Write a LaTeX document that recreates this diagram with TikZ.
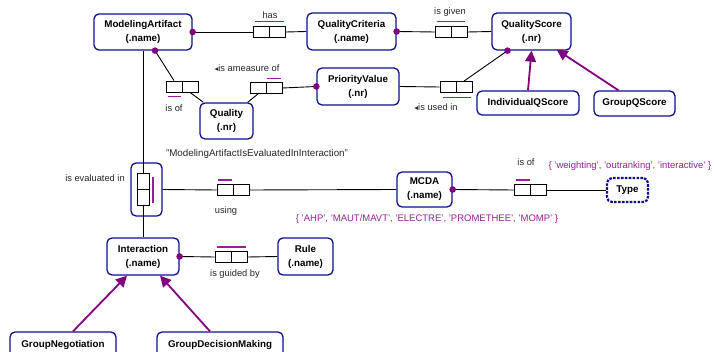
\documentclass[tikz,border=0pt]{standalone}
\usepackage{fontspec}
\setmainfont{Liberation Sans}
\newfontfamily\symfont{DejaVu Sans}
\usetikzlibrary{positioning, arrows.meta}
\definecolor{ormblue}{RGB}{16,16,140}
\definecolor{ormpurple}{RGB}{128,0,128}
\definecolor{ormlilac}{RGB}{150,30,150}
\newcommand{\revrole}{{\symfont\fontsize{7.5}{7}\selectfont ◂}}

\tikzset{
  entity/.style={draw=ormblue, line width=1.3pt, rounded corners=5pt, fill=white, align=center,
    inner sep=1pt, font=\fontsize{9.8}{14}\selectfont\bfseries},
  valuetype/.style={entity, line width=2.2pt, dash pattern=on 2.6pt off 1.3pt},
  fact/.style={draw, line width=0.8pt, fill=white, minimum width=32pt, minimum height=11pt, inner sep=0pt,
    path picture={\draw[line width=0.8pt] (path picture bounding box.north) -- (path picture bounding box.south);}},
  vfact/.style={draw, line width=0.8pt, fill=white, minimum width=12pt, minimum height=32pt, inner sep=0pt,
    path picture={\draw[line width=0.8pt] (path picture bounding box.west) -- (path picture bounding box.east);}},
  lbl/.style={inner sep=0pt, text=black!85, font=\fontsize{9.3}{11}\selectfont},
  cons/.style={inner sep=0pt, text=ormlilac, font=\fontsize{9.5}{11}\selectfont},
  conn/.style={draw, line width=0.9pt},
  uniq/.style={draw=ormlilac, line width=1.2pt},
  mand/.style={fill=ormpurple},
  subtype/.style={draw=ormpurple, line width=1.8pt, -{Triangle[length=11pt,width=11pt]}},
}

\begin{document}
\begin{tikzpicture}[x=1pt, y=-1pt]
  \useasboundingbox (0,0) rectangle (714,352);

  % entity types
  \node[entity, minimum width=98pt, minimum height=36pt] (MA)  at (143,32)      {ModelingArtifact\\(.name)};
  \node[entity, minimum width=89pt, minimum height=37pt] (QC)  at (351.5,31.5)  {QualityCriteria\\(.name)};
  \node[entity, minimum width=79pt, minimum height=37pt] (QS)  at (531.5,31.5)  {QualityScore\\(.nr)};
  \node[entity, minimum width=53pt, minimum height=36pt] (Q)   at (226.5,121)   {Quality\\(.nr)};
  \node[entity, minimum width=82pt, minimum height=37pt] (PV)  at (358,86.5)    {PriorityValue\\(.nr)};
  \node[entity, minimum width=102pt, minimum height=24pt] (IQS) at (528,103)    {IndividualQScore};
  \node[entity, minimum width=81pt, minimum height=25pt] (GQS) at (634.5,103.5) {GroupQScore};
  \node[entity, minimum width=72pt, minimum height=37pt] (I)   at (143,256.5)   {Interaction\\(.name)};
  \node[entity, minimum width=55pt, minimum height=37pt] (R)   at (305.5,256.5) {Rule\\(.name)};
  \node[entity, minimum width=106pt, minimum height=25pt] (GN) at (63,344.5)    {GroupNegotiation};
  \node[entity, minimum width=126pt, minimum height=25pt] (GDM) at (220,344.5)  {GroupDecisionMaking};
  \node[entity, minimum width=55pt, minimum height=35pt] (M)   at (424.5,189.5) {MCDA\\(.name)};
  \node[valuetype, minimum width=41pt, minimum height=24pt] (T) at (627.5,190)  {Type};

  % objectified fact
  \node[entity, minimum width=31pt, minimum height=53pt] (EI) at (146.5,189.5) {};
  \node[vfact] (ev) at (143,189) {};

  % fact types
  \node[fact] (has)    at (269.5,32) {};
  \node[fact] (given)  at (451,32)   {};
  \node[fact] (isof)   at (182,86.5) {};
  \node[fact] (meas)   at (266,88)   {};
  \node[fact] (used)   at (456,87)   {};
  \node[fact] (using)  at (233,190)  {};
  \node[fact] (typeof) at (530,190)  {};
  \node[fact] (guided) at (231,257)  {};

  % readings
  \node[lbl] (hasL)    at (270,15)  {has};
  \node[lbl] (givenL)  at (450,12.5) {is given};
  \node[lbl] (isofL)   at (174,108) {is of};
  \node[lbl] (measL)   at (247,68)  {\revrole is ameasure of};
  \node[lbl] (usedL)   at (436,107) {\revrole is used in};
  \node[lbl] (evL)     at (95,178)  {is evaluated in};
  \node[lbl, font=\fontsize{9.8}{11}\selectfont] (evN) at (257,154) {"ModelingArtifactIsEvaluatedInInteraction"};
  \node[lbl] (usingL)  at (226,211) {using};
  \node[lbl] (typeofL) at (526,162) {is of};
  \node[lbl] (guidedL) at (235,274) {is guided by};
  \node[cons] (typeC)  at (630,166) {\{ 'weighting', 'outranking', 'interactive' \}};
  \node[cons] (mcdaC)  at (427,219) {\{ 'AHP', 'MAUT/MAVT', 'ELECTRE', 'PROMETHEE', 'MOMP' \}};

  \coordinate (MAd) at ([xshift=12pt]MA.south);
  \coordinate (QSd) at ([xshift=-24pt]QS.south);

  % roles
  \draw[conn] (MA.east) -- (has.west);
  \draw[conn] (has.east) -- (QC.west);
  \draw[conn] (QC.east) -- (given.west);
  \draw[conn] (given.east) -- (QS.west);
  \draw[conn] (MAd) -- ([xshift=-8pt]isof.north);
  \draw[conn] ([xshift=8pt]isof.south) -- ([xshift=4pt]Q.north west);
  \draw[conn] ([xshift=-6pt]Q.north east) -- ([xshift=-8pt]meas.south);
  \draw[conn] (meas.east) -- (PV.west);
  \draw[conn] (PV.east) -- (used.west);
  \draw[conn] ([xshift=8pt]used.north) -- (QSd);
  \draw[conn] (MA.south) -- (ev.north);
  \draw[conn] (ev.south) -- (I.north);
  \draw[conn] (EI.east) -- (using.west);
  \draw[conn] (using.east) -- (M.west);
  \draw[conn] (M.east) -- (typeof.west);
  \draw[conn] (typeof.east) -- (T.west);
  \draw[conn] (I.east) -- (guided.west);
  \draw[conn] (guided.east) -- (R.west);

  % uniqueness
  \draw[uniq] ([xshift=2pt,yshift=4.5pt]has.north west) -- ([xshift=-2pt,yshift=4.5pt]has.north east);
  \draw[uniq] ([xshift=2pt,yshift=4.5pt]given.north west) -- ([xshift=-2pt,yshift=4.5pt]given.north east);
  \draw[uniq] ([xshift=2pt,yshift=-4.5pt]isof.south west) -- ([xshift=-1pt,yshift=-4.5pt]isof.south);
  \draw[uniq] ([xshift=1pt,yshift=3.5pt]meas.north) -- ([xshift=-1pt,yshift=3.5pt]meas.north east);
  \draw[uniq] ([xshift=3pt,yshift=-5pt]used.south west) -- ([xshift=-1pt,yshift=-5pt]used.south east);
  \draw[uniq] ([xshift=1pt,yshift=4pt]using.north west) -- ([xshift=-1pt,yshift=4pt]using.north);
  \draw[uniq] ([xshift=2pt,yshift=4pt]typeof.north west) -- ([xshift=0pt,yshift=4pt]typeof.north);
  \draw[uniq] ([xshift=2pt,yshift=4pt]guided.north west) -- ([xshift=-1pt,yshift=4pt]guided.north east);
  \draw[uniq] ([xshift=3.5pt,yshift=-4pt]ev.north east) -- ([xshift=3.5pt,yshift=2pt]ev.south east);

  % mandatory
  \foreach \p in {MA.east, MAd, QC.east, PV.west, QSd, M.east, I.east}
    \fill[mand] (\p) circle (3.3pt);

  % subtypes
  \draw[subtype] (IQS.north) -- (QS.south);
  \draw[subtype] ([xshift=-16pt]GQS.north) -- ([xshift=-15pt,yshift=1pt]QS.south east);
  \draw[subtype] ([xshift=10pt]GN.north) -- ([xshift=-16pt]I.south);
  \draw[subtype] ([xshift=-10pt]GDM.north) -- ([xshift=17pt]I.south);
\end{tikzpicture}
\end{document}
